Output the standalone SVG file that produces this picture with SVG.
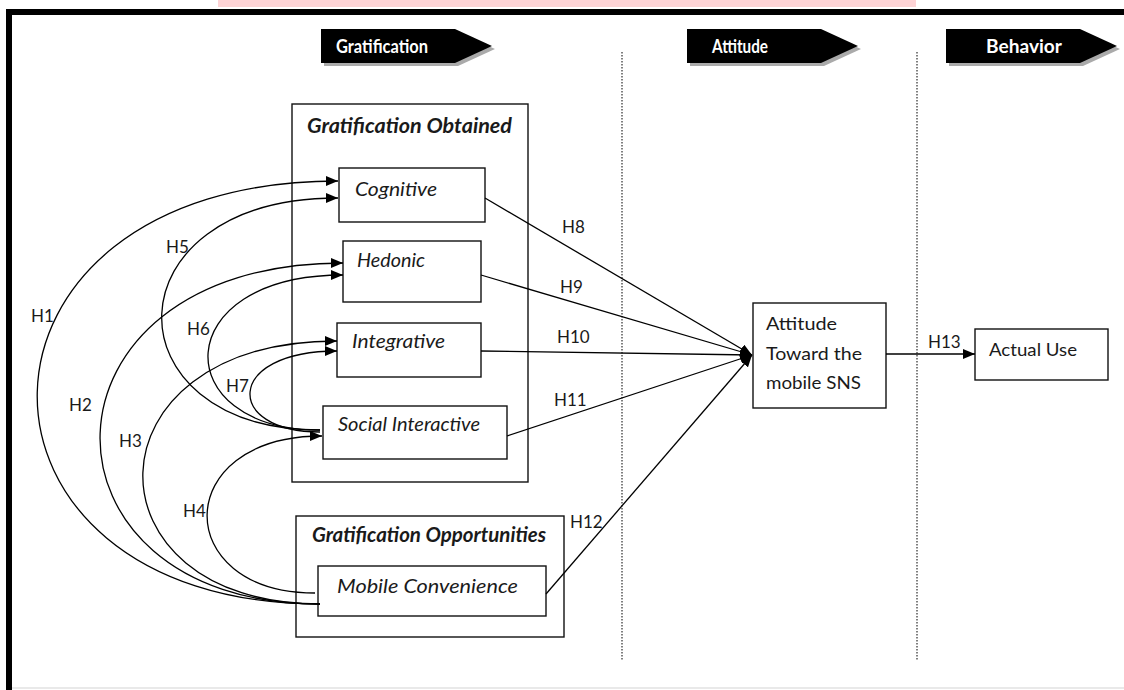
<svg xmlns="http://www.w3.org/2000/svg" width="1124" height="690" viewBox="0 0 1124 690">
<style>
.box{fill:#fff;stroke:#111;stroke-width:1.4}
.t{font-family:Lato,"Liberation Sans",sans-serif;fill:#1a1a1a}
.it{font-style:italic;font-size:19px}
.bi{font-weight:bold;font-style:italic;font-size:20px}
.rg{font-size:17px}
.h{font-size:17px}
.hdr{font-weight:bold;fill:#fff;font-size:19px}
.c{fill:none;stroke:#000;stroke-width:1.3}
.dot{stroke:#555;stroke-width:1.5;stroke-dasharray:1.5 1.5}
</style>
<defs>
<marker id="ah" markerUnits="userSpaceOnUse" markerWidth="12" markerHeight="10" refX="12" refY="5" orient="auto" viewBox="0 0 12 10"><path d="M0,0 L12,5 L0,10 z" fill="#000"/></marker>
<polygon id="hdrShape" points="0,0 134,0 171,17 134,34 0,34"/>
</defs>
<rect x="0" y="0" width="1124" height="690" fill="#fff"/>
<rect x="218" y="0" width="698" height="7" fill="#fdd3d5"/>
<g id="frame">
<line x1="6" y1="12" x2="1124" y2="12" stroke="#000" stroke-width="6"/>
<line x1="9" y1="9" x2="9" y2="690" stroke="#000" stroke-width="6"/>
<line x1="12" y1="688" x2="1124" y2="688" stroke="#e2e2e2" stroke-width="1.5"/>
</g>
<g id="dividers">
<line class="dot" x1="622" y1="52" x2="622" y2="660"/>
<line class="dot" x1="917" y1="52" x2="917" y2="660"/>
</g>
<g id="hdr-gratification">
<use href="#hdrShape" x="324" y="32" fill="#aaa"/>
<use href="#hdrShape" x="321" y="29" fill="#000"/>
<text class="t hdr" x="336" y="53" textLength="92" lengthAdjust="spacingAndGlyphs">Gratification</text>
</g>
<g id="hdr-attitude">
<use href="#hdrShape" x="690" y="32" fill="#aaa"/>
<use href="#hdrShape" x="687" y="29" fill="#000"/>
<text class="t hdr" x="712" y="53" textLength="56" lengthAdjust="spacingAndGlyphs">Attitude</text>
</g>
<g id="hdr-behavior">
<use href="#hdrShape" x="949" y="32" fill="#aaa"/>
<use href="#hdrShape" x="946" y="29" fill="#000"/>
<text class="t hdr" x="986" y="53" textLength="76" lengthAdjust="spacingAndGlyphs">Behavior</text>
</g>
<g id="grat-obtained">
<rect class="box" x="292" y="104" width="236" height="378"/>
<text class="t bi" x="307" y="133" textLength="205" lengthAdjust="spacingAndGlyphs">Gratification Obtained</text>
</g>
<g id="cognitive">
<rect class="box" x="339" y="168" width="146" height="54"/>
<text class="t it" x="355" y="196" textLength="82" lengthAdjust="spacingAndGlyphs">Cognitive</text>
</g>
<g id="hedonic">
<rect class="box" x="343" y="241" width="138" height="61"/>
<text class="t it" x="357" y="267" textLength="68" lengthAdjust="spacingAndGlyphs">Hedonic</text>
</g>
<g id="integrative">
<rect class="box" x="337" y="323" width="144" height="54"/>
<text class="t it" x="352" y="348" textLength="93" lengthAdjust="spacingAndGlyphs">Integrative</text>
</g>
<g id="social">
<rect class="box" x="323" y="406" width="184" height="53"/>
<text class="t it" x="338" y="431" textLength="142" lengthAdjust="spacingAndGlyphs">Social Interactive</text>
</g>
<g id="grat-opportunities">
<rect class="box" x="296" y="516" width="268" height="121"/>
<text class="t bi" x="312" y="542" textLength="234" lengthAdjust="spacingAndGlyphs">Gratification Opportunities</text>
</g>
<g id="mobile">
<rect class="box" x="318" y="566" width="228" height="50"/>
<text class="t it" x="337" y="593" textLength="181" lengthAdjust="spacingAndGlyphs">Mobile Convenience</text>
</g>
<g id="attitude">
<rect class="box" x="753" y="303" width="133" height="105"/>
<text class="t rg" x="766" y="330" textLength="71" lengthAdjust="spacingAndGlyphs">Attitude</text>
<text class="t rg" x="766" y="360" textLength="96" lengthAdjust="spacingAndGlyphs">Toward the</text>
<text class="t rg" x="766" y="389" textLength="95" lengthAdjust="spacingAndGlyphs">mobile SNS</text>
</g>
<g id="actual-use">
<rect class="box" x="975" y="329" width="133" height="51"/>
<text class="t rg" x="989" y="356" textLength="88" lengthAdjust="spacingAndGlyphs">Actual Use</text>
</g>
<g id="connectors">
<path class="c" marker-end="url(#ah)" d="M320,604 C-60,604 -60,181 338,181"/>
<path class="c" marker-end="url(#ah)" d="M320,604 C23,604 23,263 343,263"/>
<path class="c" marker-end="url(#ah)" d="M320,604 C81,604 81,341 337,341"/>
<path class="c" marker-end="url(#ah)" d="M315,593 C170,593 170,436 322,436"/>
<path class="c" marker-end="url(#ah)" d="M320,430 C106,430 106,198 338,198"/>
<path class="c" marker-end="url(#ah)" d="M320,430 C167,430 167,275 343,275"/>
<path class="c" marker-end="url(#ah)" d="M320,432 C224,432 224,351 337,351"/>
<line class="c" marker-end="url(#ah)" x1="485" y1="198" x2="752" y2="355"/>
<line class="c" marker-end="url(#ah)" x1="481" y1="275" x2="752" y2="355"/>
<line class="c" marker-end="url(#ah)" x1="481" y1="351" x2="752" y2="355"/>
<line class="c" marker-end="url(#ah)" x1="507" y1="436" x2="752" y2="355"/>
<line class="c" marker-end="url(#ah)" x1="546" y1="594" x2="752" y2="355"/>
<line class="c" marker-end="url(#ah)" x1="886" y1="354" x2="975" y2="354"/>
</g>
<g id="labels">
<text class="t h" x="31" y="322">H1</text>
<text class="t h" x="69" y="411">H2</text>
<text class="t h" x="119" y="447">H3</text>
<text class="t h" x="183" y="517">H4</text>
<text class="t h" x="166" y="253">H5</text>
<text class="t h" x="187" y="335">H6</text>
<text class="t h" x="226" y="392">H7</text>
<text class="t h" x="562" y="233">H8</text>
<text class="t h" x="560" y="293">H9</text>
<text class="t h" x="557" y="343">H10</text>
<text class="t h" x="554" y="406">H11</text>
<text class="t h" x="570" y="528">H12</text>
<text class="t h" x="928" y="348">H13</text>
</g>
</svg>
